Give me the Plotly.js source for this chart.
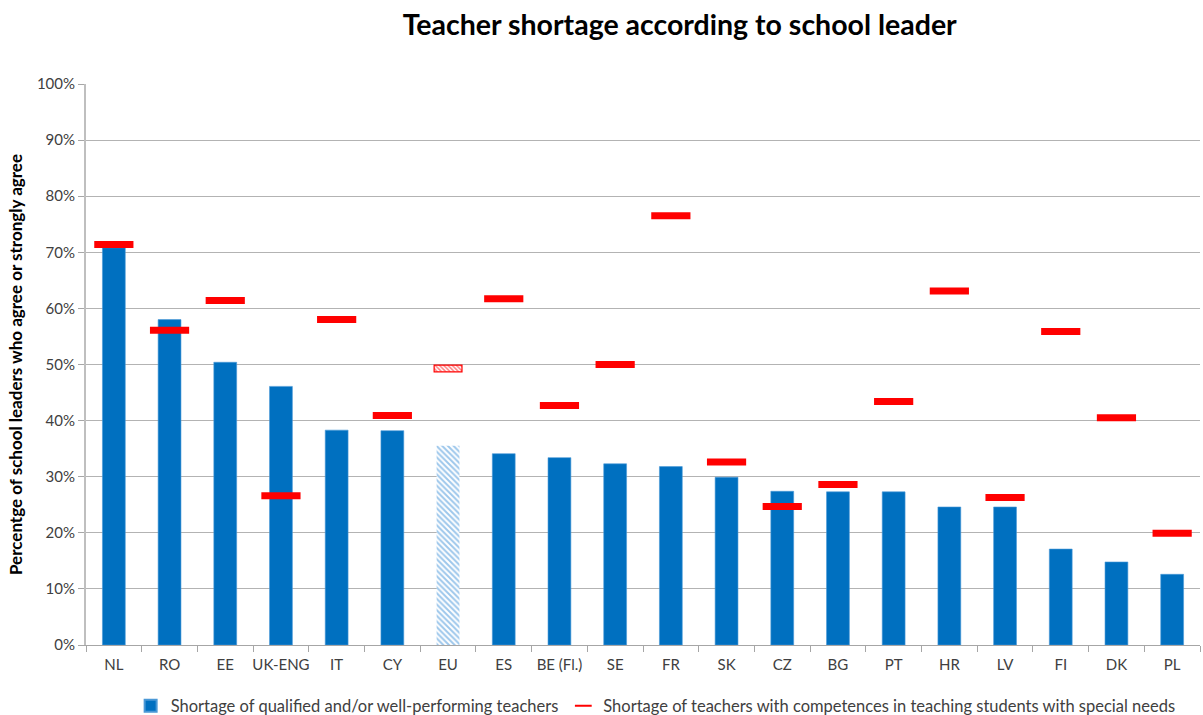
<!DOCTYPE html>
<html>
<head>
<meta charset="utf-8">
<script src="https://cdn.plot.ly/plotly-3.0.1.min.js"></script>
<style>html,body{margin:0;padding:0;background:#fff;}#chart{width:1203px;height:715px;}</style>
</head>
<body>
<div id="chart"></div>
<script>
var countries = ['NL','RO','EE','UK-ENG','IT','CY','EU','ES','BE (Fl.)','SE','FR','SK','CZ','BG','PT','HR','LV','FI','DK','PL'];
var qualified = [70.8, 58.0, 50.4, 46.1, 38.3, 38.2, 35.5, 34.1, 33.4, 32.3, 31.8, 29.9, 27.4, 27.3, 27.3, 24.6, 24.6, 17.1, 14.8, 12.6];
var specialNeeds = [71.4, 56.1, 61.4, 26.6, 58.0, 40.9, 49.3, 61.7, 42.7, 50.0, 76.5, 32.6, 24.7, 28.6, 43.4, 63.1, 26.3, 55.9, 40.5, 19.9];
var yTicks = [0,10,20,30,40,50,60,70,80,90,100];
var averageLabel = 'EU';

var BLUE = '#0070C0', RED = '#FF0000';
var FONT = 'Lato, "Open Sans", sans-serif';

var isAvg = countries.map(function(c){ return c === averageLabel; });
var avgIdx = isAvg.indexOf(true);

var barTrace = {
  type: 'bar',
  name: 'Shortage of qualified and/or well-performing teachers',
  x: countries,
  y: qualified.map(function(v, i){ return isAvg[i] ? null : v; }),
  width: 0.41,
  marker: {color: BLUE, line: {color: '#4A98D6', width: 0.6}},
  hoverinfo: 'x+y'
};

var barAvgTrace = {
  type: 'bar',
  x: [countries[avgIdx]],
  y: [qualified[avgIdx]],
  width: 0.41,
  showlegend: false,
  marker: {
    color: '#FFFFFF',
    line: {color: '#FFFFFF', width: 0},
    pattern: {shape: '\\', fgcolor: '#3B8FD8', bgcolor: '#FFFFFF', size: 4, solidity: 0.5, fillmode: 'overlay'}
  },
  hoverinfo: 'x+y'
};

var redTrace = {
  type: 'scatter',
  mode: 'markers',
  name: 'Shortage of teachers with competences in teaching students with special needs',
  x: countries,
  y: specialNeeds.map(function(v, i){ return isAvg[i] ? null : v; }),
  marker: {symbol: 'line-ew-open', size: 28, color: RED, line: {color: RED, width: 7}},
  hoverinfo: 'x+y'
};

var dashH = 1.2;
var redAvgTrace = {
  type: 'bar',
  x: [countries[avgIdx]],
  y: [dashH],
  base: [specialNeeds[avgIdx] - dashH/2],
  width: 0.5,
  showlegend: false,
  marker: {
    color: '#FFFFFF',
    line: {color: RED, width: 1.2},
    pattern: {shape: '\\', fgcolor: RED, bgcolor: '#FFFFFF', size: 3, solidity: 0.5, fillmode: 'overlay'}
  },
  hoverinfo: 'skip'
};

var layout = {
  width: 1203, height: 715,
  paper_bgcolor: '#FFFFFF', plot_bgcolor: '#FFFFFF',
  margin: {l: 86, r: 3, t: 84, b: 70},
  barmode: 'overlay',
  font: {family: FONT, size: 15, color: '#404040'},
  title: {
    text: '<b>Teacher shortage according to school leader</b>',
    font: {family: FONT, size: 28.5, color: '#000000'},
    xref: 'container', x: 0.565, xanchor: 'center',
    yref: 'container', y: 0.965, yanchor: 'middle'
  },
  xaxis: {
    type: 'category',
    range: [-0.5, countries.length - 0.5],
    autorange: false,
    automargin: false,
    tickangle: 0,
    showgrid: false,
    showline: true, linecolor: '#A6A6A6', linewidth: 1,
    ticks: 'outside', tickson: 'boundaries', ticklen: 6, tickcolor: '#A6A6A6',
    ticklabelstandoff: 6,
    tickfont: {family: FONT, size: 15, color: '#404040'},
    zeroline: false
  },
  yaxis: {
    range: [0, 100],
    autorange: false,
    automargin: false,
    tickvals: yTicks,
    ticktext: yTicks.map(function(v){ return v + '%'; }),
    showgrid: true, gridcolor: '#B3B3B3', gridwidth: 1,
    showline: true, linecolor: '#BFBFBF', linewidth: 2,
    ticks: 'outside', ticklen: 6, tickcolor: '#A6A6A6',
    tickfont: {family: FONT, size: 15, color: '#404040'},
    zeroline: false,
    title: {
      text: '<b>Percentge of school leaders who agree or strongly agree</b>',
      font: {family: FONT, size: 17, color: '#000000'},
      standoff: 10
    }
  },
  legend: {
    orientation: 'h',
    xref: 'container', yref: 'container',
    x: 0.545, xanchor: 'center',
    y: 0.0126, yanchor: 'middle',
    font: {family: FONT, size: 16.5, color: '#404040'},
    itemwidth: 30,
    itemsizing: 'constant',
    traceorder: 'normal'
  },
  showlegend: true
};

Plotly.newPlot('chart', [barTrace, barAvgTrace, redAvgTrace, redTrace], layout, {displayModeBar: false, staticPlot: true});
</script>
</body>
</html>
